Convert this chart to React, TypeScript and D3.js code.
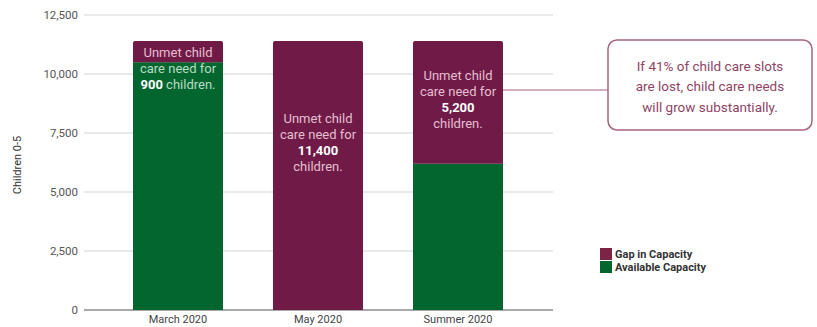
import React from "react";
import * as d3 from "d3";

const categories = ["March 2020", "May 2020", "Summer 2020"];
const availableCapacity = [10500, 0, 6200];
const gapInCapacity = [900, 11400, 5200];
const gapLabels = ["900", "11,400", "5,200"];
const yTicks = [0, 2500, 5000, 7500, 10000, 12500];
const seriesNames = ["Gap in Capacity", "Available Capacity"];
const calloutLines = ["If 41% of child care slots", "are lost, child care needs", "will grow substantially."];

const W = 817, H = 327;
const MAROON = "#701b47";
const GREEN = "#04662f";
const FONT = "Roboto, 'Noto Sans', sans-serif";

export default function App() {
  const y = d3.scaleLinear().domain([0, 12500]).range([310, 15]);
  const x = d3.scaleBand<string>().domain(categories).range([133, 503]).paddingInner(0.357).paddingOuter(0);
  const bw = x.bandwidth();
  // label vertical centers (px offset from the bar top) per bar layout
  const labelOffsets = [27, 101, 58];
  const lh = 16;

  const summerIdx = 2;
  const summerRight = (x(categories[summerIdx]) as number) + bw;
  const callout = { x: 608, y: 40, w: 204, h: 90 };
  const connectorY = 90;

  return (
    <svg width={W} height={H} style={{ position: "absolute", left: 0, top: 0, background: "#fff" }} fontFamily={FONT}>
      {/* gridlines */}
      {yTicks.map((t) => (
        <g key={t}>
          <line x1={84} x2={553} y1={y(t)} y2={y(t)} stroke={t === 0 ? "#555" : "#e2e2e2"} strokeWidth={t === 0 ? 1.2 : 1.5} />
          <text x={78} y={y(t)} dy="0.35em" textAnchor="end" fontSize={11.5} fill="#555">
            {d3.format(",")(t)}
          </text>
        </g>
      ))}
      <text transform={`translate(21,${165}) rotate(-90)`} textAnchor="middle" fontSize={11} fill="#333">
        Children 0-5
      </text>

      {/* bars */}
      {categories.map((c, i) => {
        const x0 = x(c) as number;
        const a = availableCapacity[i];
        const g = gapInCapacity[i];
        const top = y(a + g);
        return (
          <g key={c}>
            {a > 0 && <rect x={x0} y={y(a)} width={bw} height={y(0) - y(a)} fill={GREEN} />}
            <path
              d={`M${x0},${y(a)} V${top + 2} Q${x0},${top} ${x0 + 2},${top} H${x0 + bw - 2} Q${x0 + bw},${top} ${x0 + bw},${top + 2} V${y(a)} Z`}
              fill={MAROON}
            />
            <text x={x0 + bw / 2} y={y(0) + 13} textAnchor="middle" fontSize={11} fill="#444">
              {c}
            </text>
          </g>
        );
      })}

      {/* bar labels */}
      {categories.map((c, i) => {
        const x0 = x(c) as number;
        const cx = x0 + bw / 2;
        const top = y(availableCapacity[i] + gapInCapacity[i]);
        const center = top + labelOffsets[i];
        const boundary = y(availableCapacity[i]);
        const lines = i === 1 || i === 2
          ? [["Unmet child"], ["care need for"], [gapLabels[i]], ["children."]]
          : [["Unmet child"], ["care need for"], [gapLabels[i], " children."]];
        const n = lines.length;
        return (
          <g key={c + "l"}>
            {lines.map((ln, j) => {
              const ly = center + (j - (n - 1) / 2) * lh;
              const onGreen = ly > boundary;
              const soft = onGreen ? "#b7dcc3" : "#e4bfd0";
              return (
                <text key={j} x={cx} y={ly} dy="0.35em" textAnchor="middle" fontSize={13} fill={soft}>
                  {ln.map((part, k) =>
                    part === gapLabels[i] ? (
                      <tspan key={k} fontWeight="bold" fill="#fff">{part}</tspan>
                    ) : (
                      <tspan key={k}>{part}</tspan>
                    )
                  )}
                </text>
              );
            })}
          </g>
        );
      })}

      {/* callout */}
      <line x1={summerRight} x2={callout.x} y1={connectorY} y2={connectorY} stroke="#a8637f" strokeWidth={1.2} />
      <rect x={callout.x} y={callout.y} width={callout.w} height={callout.h} rx={9} fill="#fff" stroke="#a8637f" strokeWidth={1.5} />
      {calloutLines.map((t, j) => (
        <text key={t} x={callout.x + callout.w / 2} y={66 + j * 20.5} dy="0.35em" textAnchor="middle" fontSize={13.5} fill="#8f4466">
          {t}
        </text>
      ))}

      {/* legend */}
      {seriesNames.map((s, j) => (
        <g key={s} transform={`translate(600,${248 + j * 13})`}>
          <rect width={12} height={12} fill={j === 0 ? "#7d2345" : GREEN} />
          <text x={15} y={6} dy="0.35em" fontSize={11} fontWeight="bold" fill="#333">
            {s}
          </text>
        </g>
      ))}
    </svg>
  );
}
